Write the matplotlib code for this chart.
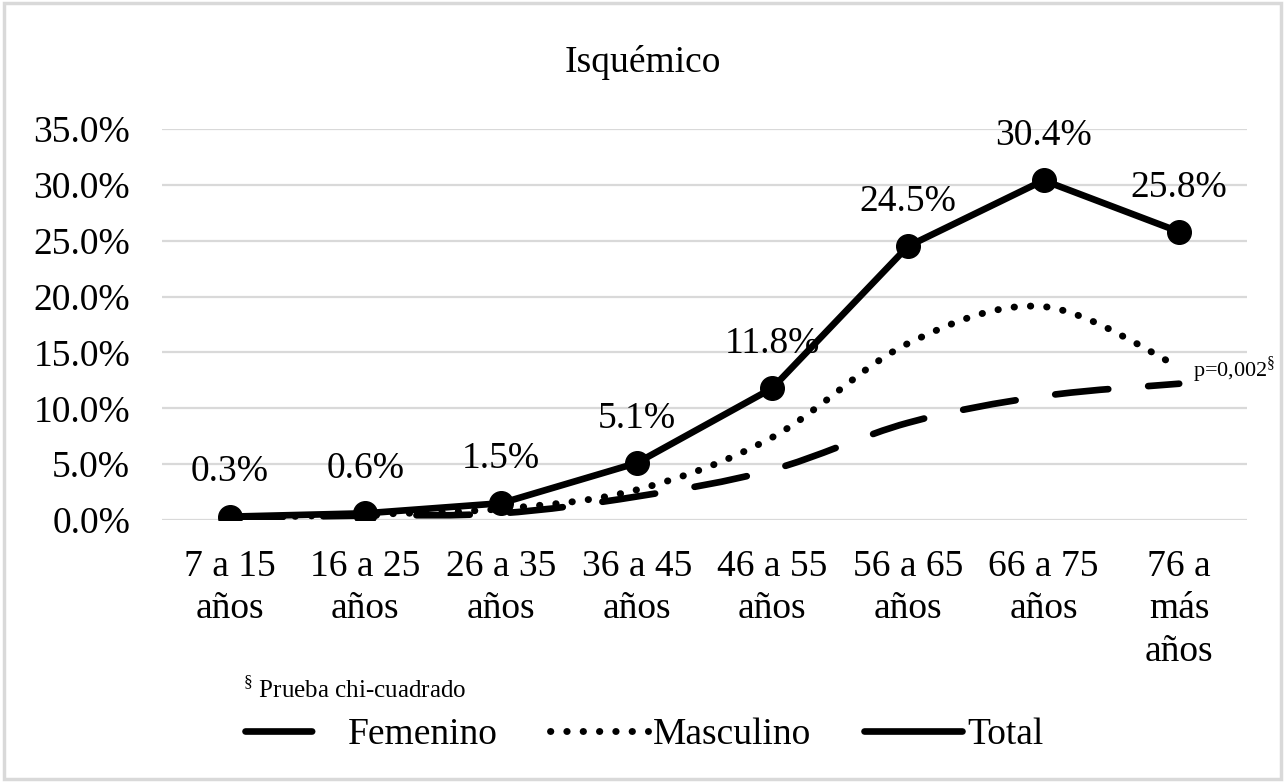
import matplotlib
matplotlib.use('Agg')
import matplotlib.pyplot as plt
import numpy as np
from matplotlib.path import Path
from matplotlib.patches import PathPatch, Rectangle
from matplotlib.lines import Line2D

categories = ["7 a 15\naños", "16 a 25\naños", "26 a 35\naños", "36 a 45\naños",
              "46 a 55\naños", "56 a 65\naños", "66 a 75\naños", "76 a\nmás\naños"]
femenino = [0.2, 0.4, 0.6, 2.1, 4.5, 8.7, 11.1, 12.2]
masculino = [0.2, 0.5, 1.0, 2.7, 7.4, 15.8, 19.1, 13.7]
total = [0.3, 0.6, 1.5, 5.1, 11.8, 24.5, 30.4, 25.8]
yticks = [0, 5, 10, 15, 20, 25, 30, 35]
title = "Isquémico"
pval = "p=0,002"
footnote = "Prueba chi-cuadrado"

plt.rcParams['font.family'] = ['Liberation Serif', 'DejaVu Serif']
plt.rcParams['mathtext.fontset'] = 'custom'
plt.rcParams['mathtext.rm'] = 'Liberation Serif'

FS = 27
fig = plt.figure(figsize=(12.85, 7.82), dpi=100)
ax = fig.add_axes([162/1285, 1-520/782, (1247-162)/1285, (520-129)/782])

x = np.arange(len(categories))


def smooth_path(xs, ys):
    pts = np.column_stack([xs, ys]).astype(float)
    n = len(pts)
    verts = [pts[0]]
    codes = [Path.MOVETO]
    for i in range(n - 1):
        p0 = pts[i - 1] if i > 0 else pts[i]
        p1 = pts[i]
        p2 = pts[i + 1]
        p3 = pts[i + 2] if i + 2 < n else pts[i + 1]
        c1 = p1 + (p2 - p0) / 6.0
        c2 = p2 - (p3 - p1) / 6.0
        verts += [c1, c2, p2]
        codes += [Path.CURVE4] * 3
    return Path(verts, codes)


FEM_LS = (0, (8.0, 6.0))
MASC_LW = 5.0
MASC_LS = (0, (0.05, 2.3))

p1 = PathPatch(smooth_path(x, femenino), fill=False, edgecolor='black', lw=4.8,
               linestyle=FEM_LS, capstyle='round', zorder=3)
p2 = PathPatch(smooth_path(x, masculino), fill=False, edgecolor='black', lw=MASC_LW,
               linestyle=MASC_LS, capstyle='round', zorder=3)
ax.add_patch(p1)
ax.add_patch(p2)

ax.plot(x, total, color='black', lw=4.8, marker='o', markersize=17, zorder=4,
        solid_capstyle='round')

for xi, v in zip(x, total):
    ax.annotate(f"{v:.1f}%", (xi, v), xytext=(0, 32), textcoords='offset points',
                ha='center', va='center', fontsize=FS, zorder=5)

ax.annotate(pval + r"$^{\mathrm{§}}$", (x[-1], masculino[-1]), xytext=(10, -2),
            textcoords='offset points', ha='left', va='center', fontsize=16)

ax.set_xlim(-0.5, len(categories) - 0.5)
ax.set_ylim(0, 35)
ax.set_yticks(yticks)
ax.set_yticklabels([f"{t:.1f}%" for t in yticks], fontsize=FS)
ax.set_xticks(x)
ax.set_xticklabels(categories, fontsize=FS, linespacing=1.3)
ax.tick_params(axis='y', length=0, pad=23)
ax.tick_params(axis='x', length=0, pad=21)
ax.grid(axis='y', color='#d9d9d9', lw=1.6, zorder=0)
ax.set_axisbelow(True)
for s in ax.spines.values():
    s.set_visible(False)

fig.text(643/1285, 1-62/782, title, ha='center', va='center', fontsize=FS)
fig.text(243/1285, 1-690/782, r"$^{\mathrm{§}}$" + " " + footnote, ha='left', va='center', fontsize=18)

handles = [Line2D([], [], color='black', lw=4.8, linestyle=(0, (10.0, 10.0)), dash_capstyle='round'),
           Line2D([], [], color='black', lw=MASC_LW, linestyle=MASC_LS, dash_capstyle='round'),
           Line2D([], [], color='black', lw=4.8, solid_capstyle='round')]
fig.legend(handles, ["Femenino", "Masculino", "Total"], loc='center',
           bbox_to_anchor=(644/1285, 1-735/782), ncol=3, frameon=False, fontsize=FS,
           handlelength=2.6, handletextpad=0.15, columnspacing=1.4)

fig.patches.append(Rectangle((0.003, 0.004), 0.994, 0.992, transform=fig.transFigure,
                             fill=False, edgecolor='#d9d9d9', lw=2.5))

fig.savefig('out.png', dpi=100)
